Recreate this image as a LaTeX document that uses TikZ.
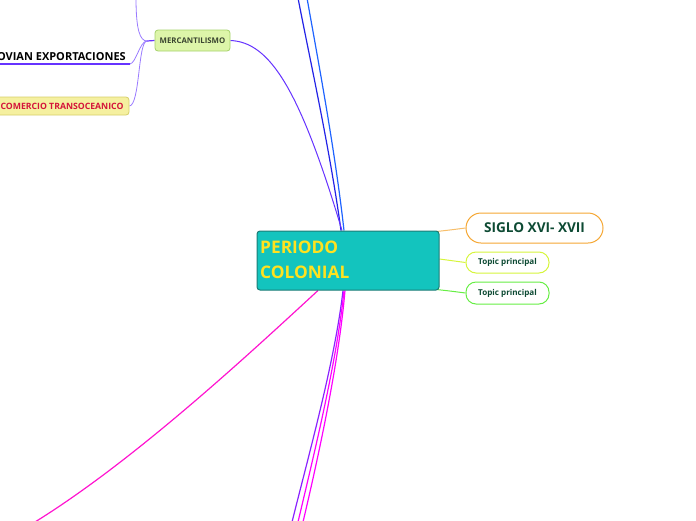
\documentclass[tikz,border=0pt]{standalone}
\usepackage{fontspec}
\setmainfont{Open Sans}
\usetikzlibrary{backgrounds}
\definecolor{teal1}{HTML}{13C4BE}
\definecolor{teal2}{HTML}{1B7C76}
\definecolor{ytext}{HTML}{FFE21F}
\definecolor{dgreen}{HTML}{0D4A33}
\definecolor{orng}{HTML}{F5A733}
\definecolor{orngl}{HTML}{F7BE6A}
\definecolor{lime}{HTML}{D6F53C}
\definecolor{grn}{HTML}{66EE44}
\definecolor{mfill}{HTML}{DDF5A9}
\definecolor{mdraw}{HTML}{A5D16A}
\definecolor{mtext}{HTML}{3B4530}
\definecolor{purp}{HTML}{6633FF}
\definecolor{purpl}{HTML}{9A7BFF}
\definecolor{dblue}{HTML}{2323E6}
\definecolor{lblue}{HTML}{1E63FF}
\definecolor{mag}{HTML}{FF14CF}
\definecolor{mag2}{HTML}{FF00FF}
\definecolor{vio}{HTML}{8A22FF}
\definecolor{cfill}{HTML}{F5F0A0}
\definecolor{cdraw}{HTML}{D6CE6A}
\definecolor{ctext}{HTML}{D4143A}
\tikzset{
  central/.style={draw=teal2, fill=teal1, line width=1pt, rounded corners=3pt,
    minimum width=182pt, minimum height=59pt, inner sep=0pt},
  pill/.style={fill=white, line width=1pt, rounded corners=10pt, inner sep=0pt,
    text=dgreen, font=\bfseries},
  merc/.style={draw=mdraw, fill=mfill, line width=0.8pt, rounded corners=3pt,
    minimum width=75pt, minimum height=21pt, inner sep=0pt, text=mtext,
    font=\bfseries\fontsize{7.8}{8}\selectfont},
  comer/.style={draw=cdraw, fill=cfill, line width=0.8pt, rounded corners=3pt,
    minimum width=134pt, minimum height=18pt, inner sep=0pt, text=ctext,
    font=\bfseries\fontsize{8.7}{9}\selectfont},
  conn/.style={line width=1.2pt},
}
\begin{document}
\begin{tikzpicture}[x=1pt,y=-1pt]
\useasboundingbox (0,0) rectangle (696,520);
\clip (0,0) rectangle (696,520);
% nodes
\node[central] (c) at (348,260.5) {};
\node[anchor=north west, text=ytext, font=\bfseries\fontsize{17.3}{24.5}\selectfont,
  align=left, inner sep=0pt] (ct) at (260,241) {PERIODO\\COLONIAL};
\node[pill, draw=orng, rounded corners=15pt, minimum width=137pt, minimum height=30pt,
  font=\bfseries\fontsize{13.6}{15}\selectfont] (s) at (534.5,228) {SIGLO XVI- XVII};
\node[pill, draw=lime, minimum width=83pt, minimum height=21pt,
  font=\bfseries\fontsize{8.1}{9}\selectfont] (t1) at (507.5,262.5) {Topic principal};
\node[pill, draw=grn, minimum width=83pt, minimum height=22pt,
  font=\bfseries\fontsize{8.1}{9}\selectfont] (t2) at (507.5,293) {Topic principal};
\node[merc] (m) at (192.5,40.5) {MERCANTILISMO};
\node[comer] (co) at (62,106) {COMERCIO TRANSOCEANICO};
\node[anchor=base east, inner sep=0pt, font=\bfseries\fontsize{11}{13}\selectfont]
  (ov) at (126,60) {OVIAN EXPORTACIONES};
% free ends
\coordinate (b1) at (298,-2);
\coordinate (b2) at (307,-2);
\coordinate (mtop) at (136,-2);
\coordinate (ul) at (-4,64);
\coordinate (ule) at (130,64);
\coordinate (j) at (147,41);
\coordinate (ml) at (35,522);
\coordinate (d1) at (292,522);
\coordinate (d2) at (298,522);
\coordinate (d3) at (303,522);
\begin{pgfonlayer}{background}
% top
\draw[dblue, conn] ([xshift=-7pt]c.north) .. controls (330,150) and (310,60) .. (b1);
\draw[lblue, conn] ([xshift=-4pt]c.north) .. controls (335,150) and (318,60) .. (b2);
\draw[purp, line width=1pt] (m.east) .. controls (270,42) and (300,90) .. ([xshift=-6pt]c.north);
% right
\draw[orngl, line width=1pt] ([xshift=-3pt,yshift=-1pt]c.north east) .. controls (450,230) .. (s.west);
\draw[lime, line width=1pt] ([yshift=1.5pt]c.east) -- (t1.west);
\draw[grn, line width=1pt] ([xshift=-3pt,yshift=1pt]c.south east) .. controls (450,291) .. (t2.west);
% bottom
\draw[mag, conn] ([xshift=-30pt]c.south) .. controls (248,355) and (135,460) .. (ml);
\draw[vio, conn] ([xshift=-5pt]c.south) .. controls (335,360) and (310,450) .. (d1);
\draw[mag2, conn] ([xshift=-4pt]c.south) .. controls (337,360) and (315,450) .. (d2);
\draw[mag2, conn] ([xshift=-3pt]c.south) .. controls (339,360) and (320,450) .. (d3);
% mercantilismo branches
\draw[purp, line width=1.2pt] (m.west) -- (j);
\draw[purpl, line width=0.8pt] (j) .. controls (140,41) and (136,30) .. (mtop);
\draw[purpl, line width=0.8pt] (j) .. controls (140,41) and (136,63) .. (ule);
\draw[purpl, line width=0.8pt] (j) .. controls (138,41) and (140,105) .. (co.east);
\draw[purp, line width=2.2pt] (ul) -- (ule);
\end{pgfonlayer}
\end{tikzpicture}
\end{document}
